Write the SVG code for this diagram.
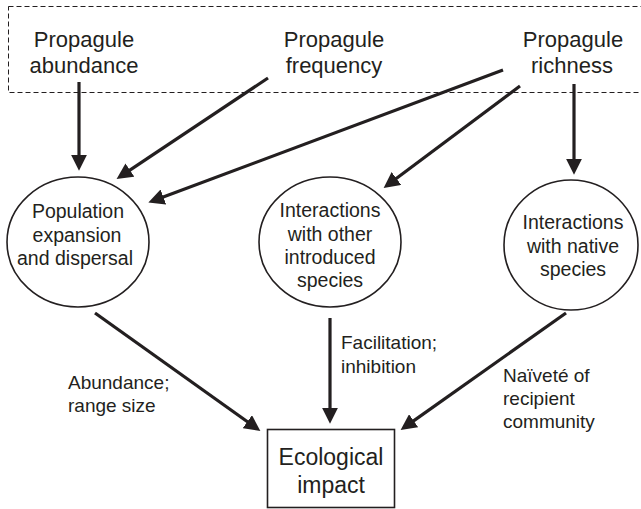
<svg xmlns="http://www.w3.org/2000/svg" width="641" height="509" viewBox="0 0 641 509">
<style>
text { font-family: "Liberation Sans", Arial, sans-serif; fill: #231f20; text-anchor: middle; }
.top { font-size: 22px; }
.node { font-size: 19.5px; }
.lbl { font-size: 19px; text-anchor: start; }
.eco { font-size: 23px; }
.shape { fill: #fff; stroke: #231f20; stroke-width: 1.6; }
.conn { stroke: #231f20; stroke-width: 3.2; fill: none; marker-end: url(#ah); }
</style>
<defs>
<marker id="ah" markerUnits="userSpaceOnUse" markerWidth="16" markerHeight="16" viewBox="0 0 14 14" refX="2" refY="7" orient="auto">
<path d="M0,0 L14,7 L0,14 z" fill="#231f20"/>
</marker>
</defs>
<rect width="641" height="509" fill="#fff"/>
<rect id="dashed-group" x="8.5" y="6.5" width="660" height="86" fill="none" stroke="#231f20" stroke-width="1" stroke-dasharray="5,3"/>
<g id="abundance"><text class="top" x="84" y="47">Propagule</text><text class="top" x="84" y="73">abundance</text></g>
<g id="frequency"><text class="top" x="334" y="47">Propagule</text><text class="top" x="334" y="73">frequency</text></g>
<g id="richness"><text class="top" x="573" y="47">Propagule</text><text class="top" x="572" y="73">richness</text></g>
<g id="connectors">
<line class="conn" x1="79" y1="82" x2="79" y2="157"/>
<line class="conn" x1="268" y1="78" x2="128" y2="171.3"/>
<line class="conn" x1="503" y1="70" x2="161.2" y2="197.8"/>
<line class="conn" x1="520" y1="86" x2="394.6" y2="179.8"/>
<line class="conn" x1="574" y1="84" x2="574" y2="161"/>
<line class="conn" x1="95" y1="313" x2="249.2" y2="423"/>
<line class="conn" x1="330" y1="318" x2="330" y2="410"/>
<line class="conn" x1="566" y1="313" x2="411.8" y2="422.1"/>
</g>
<g id="population"><ellipse class="shape" cx="78" cy="242" rx="71" ry="65"/>
<text class="node" x="78" y="218">Population</text><text class="node" x="77" y="242">expansion</text><text class="node" x="75" y="265">and dispersal</text></g>
<g id="introduced"><ellipse class="shape" cx="330" cy="242" rx="71" ry="65"/>
<text class="node" x="330" y="217">Interactions</text><text class="node" x="330" y="241">with other</text><text class="node" x="330" y="264">introduced</text><text class="node" x="330" y="287">species</text></g>
<g id="native"><ellipse class="shape" cx="571" cy="245" rx="67" ry="65"/>
<text class="node" x="573" y="229">Interactions</text><text class="node" x="573" y="253">with native</text><text class="node" x="573" y="276">species</text></g>
<g id="impact"><rect class="shape" x="267.5" y="429.5" width="127" height="78"/>
<text class="eco" x="331" y="465">Ecological</text><text class="eco" x="331" y="493">impact</text></g>
<g id="labels">
<text class="lbl" x="68" y="389">Abundance;</text><text class="lbl" x="68" y="412">range size</text>
<text class="lbl" x="341" y="349">Facilitation;</text><text class="lbl" x="341" y="373">inhibition</text>
<text class="lbl" x="503" y="382">Naïveté of</text><text class="lbl" x="503" y="405">recipient</text><text class="lbl" x="503" y="428">community</text>
</g>
</svg>
